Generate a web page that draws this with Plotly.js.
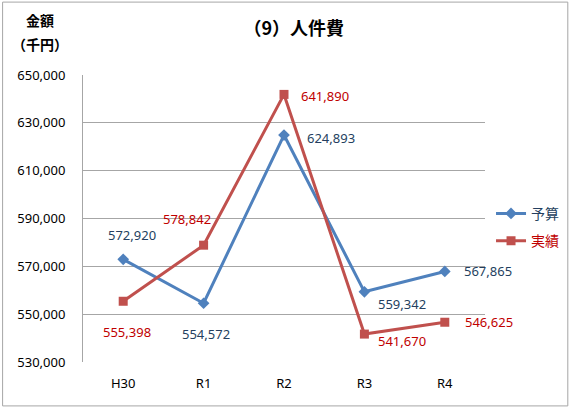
<!DOCTYPE html>
<html><head><meta charset="utf-8">
<script src="https://cdn.plot.ly/plotly-3.0.1.min.js"></script>
<style>body{margin:0;padding:0;background:#fff}#c{width:576px;height:409px}</style>
</head><body><div id="c"></div>
<script>
const categories = ["H30", "R1", "R2", "R3", "R4"];
const budget = [572920, 554572, 624893, 559342, 567865];
const actual = [555398, 578842, 641890, 541670, 546625];
const budgetName = "予算";
const actualName = "実績";
const tickVals = [530000, 550000, 570000, 590000, 610000, 630000, 650000];

const blue = "#4F81BD", red = "#C0504D";
const blueText = "#243F60", redText = "#C00000";
const numFont = "'Noto Sans', 'DejaVu Sans', sans-serif";
const jpFont = "'Noto Sans CJK JP', sans-serif";

// label offsets in pixels (style, not data)
const bOff = [[9, 24], [2, -31], [47, -3], [38, -12], [43, 0]];
const aOff = [[4, -31], [-17, 26], [41, -2], [38, -7], [44, 0]];

const fmt = v => v.toLocaleString("en-US");
const annotations = [];
budget.forEach((v, i) => annotations.push({x: categories[i], y: v, text: fmt(v), showarrow: false,
  xshift: bOff[i][0], yshift: bOff[i][1], font: {family: numFont, size: 13, color: blueText}}));
actual.forEach((v, i) => annotations.push({x: categories[i], y: v, text: fmt(v), showarrow: false,
  xshift: aOff[i][0], yshift: aOff[i][1], font: {family: numFont, size: 13, color: redText}}));
annotations.push({xref: "paper", yref: "paper", x: -0.106, y: 1.192, xanchor: "center", yanchor: "middle",
  text: "<b>金額</b>", showarrow: false, font: {family: jpFont, size: 14, color: "#000"}});
annotations.push({xref: "paper", yref: "paper", x: -0.106, y: 1.108, xanchor: "center", yanchor: "middle",
  text: "<b>（千円）</b>", showarrow: false, font: {family: jpFont, size: 14, color: "#000"}});

const traces = [
  {x: categories, y: budget, name: `<span style="color:${blueText}">${budgetName}</span>`, legendgroup: "a",
   type: "scatter", mode: "lines+markers",
   line: {color: blue, width: 3}, marker: {symbol: "diamond", size: 9, color: blue}},
  {x: categories, y: actual, name: `<span style="color:${redText}">${actualName}</span>`, legendgroup: "b",
   type: "scatter", mode: "lines+markers",
   line: {color: red, width: 3}, marker: {symbol: "square", size: 9, color: red}}
];

const layout = {
  width: 576, height: 409,
  margin: {l: 83, r: 86, t: 75, b: 47},
  paper_bgcolor: "#fff", plot_bgcolor: "#fff",
  showlegend: true,
  legend: {x: 1.015, y: 0.572, xanchor: "left", yanchor: "top", font: {family: jpFont, size: 14},
    tracegroupgap: 6, itemwidth: 30, bgcolor: "rgba(0,0,0,0)"},
  title: {text: "<b>（9）人件費</b>", x: 0.51, xanchor: "center", y: 0.93, yanchor: "middle",
    font: {family: jpFont, size: 18, color: "#000"}},
  xaxis: {type: "category", range: [-0.5, 4.5], showgrid: false, zeroline: false, showline: false,
    ticks: "", ticklabelstandoff: 12, tickfont: {family: numFont, size: 13, color: "#000"}},
  yaxis: {range: [530000, 650000], tickvals: tickVals, ticktext: tickVals.map(fmt),
    showgrid: true, gridcolor: "#A6A6A6", gridwidth: 1, zeroline: false,
    showline: true, linecolor: "#A6A6A6", linewidth: 1, ticks: "", ticklabelstandoff: 14,
    tickfont: {family: numFont, size: 13, color: "#000"}},
  annotations: annotations,
  shapes: [{type: "rect", xref: "paper", yref: "paper", x0: -0.2, x1: 1.206, y0: -0.153, y1: 1.254,
    line: {color: "#A6A6A6", width: 1}}]
};
Plotly.newPlot("c", traces, layout, {displayModeBar: false, staticPlot: true});
</script></body></html>
